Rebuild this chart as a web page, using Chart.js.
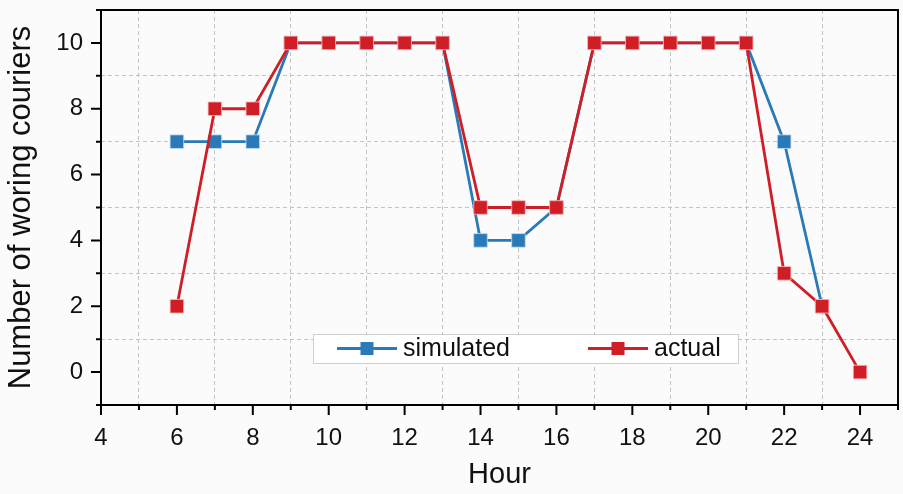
<!DOCTYPE html>
<html>
<head>
<meta charset="utf-8">
<script src="https://cdn.jsdelivr.net/npm/chart.js@4"></script>
<style>
    html, body { margin: 0; padding: 0; background: #fbfbfb; }
    #wrap { width: 903px; height: 494px; }
</style>
</head>
<body>
<div id="wrap"><canvas id="couriersChart" width="903" height="494"></canvas></div>
<script>
const hours = [6, 7, 8, 9, 10, 11, 12, 13, 14, 15, 16, 17, 18, 19, 20, 21, 22, 23, 24];
const simulated = [7, 7, 7, 10, 10, 10, 10, 10, 4, 4, 5, 10, 10, 10, 10, 10, 7, 2];
const actual = [2, 8, 8, 10, 10, 10, 10, 10, 5, 5, 5, 10, 10, 10, 10, 10, 3, 2, 0];
const seriesNames = ['simulated', 'actual'];
const seriesColors = ['#2a7ab8', '#d01e26'];

const FONT = '"Liberation Sans", Arial, sans-serif';

function toPoints(values) {
    return values.map((v, i) => ({ x: hours[i], y: v }));
}

// ticks outside the frame, long for labelled values, short for the in-between ones
const frameAndTicks = {
    id: 'frameAndTicks',
    afterDraw(chart) {
        const ctx = chart.ctx;
        const area = chart.chartArea;
        const xs = chart.scales.x;
        const ys = chart.scales.y;
        ctx.save();
        ctx.strokeStyle = '#000';
        ctx.lineWidth = 2;
        ctx.beginPath();
        xs.ticks.forEach(t => {
            const px = xs.getPixelForValue(t.value);
            const len = t.value % 2 === 0 ? 10 : 5;
            ctx.moveTo(px, area.bottom);
            ctx.lineTo(px, area.bottom + len);
        });
        ys.ticks.forEach(t => {
            const py = ys.getPixelForValue(t.value);
            const len = t.value % 2 === 0 ? 10 : 5;
            ctx.moveTo(area.left, py);
            ctx.lineTo(area.left - len, py);
        });
        ctx.stroke();
        ctx.strokeRect(area.left, area.top, area.right - area.left, area.bottom - area.top);
        ctx.restore();
    }
};

// legend box sitting inside the plot
const boxLegend = {
    id: 'boxLegend',
    afterDatasetsDraw(chart) {
        const ctx = chart.ctx;
        const area = chart.chartArea;
        const left = area.left + 212;
        const top = area.top + 324;
        const w = 425, h = 29;
        const cy = top + h / 2;
        ctx.save();
        ctx.fillStyle = '#ffffff';
        ctx.fillRect(left, top, w, h);
        ctx.strokeStyle = '#cfcfcf';
        ctx.lineWidth = 1;
        ctx.strokeRect(left + 0.5, top + 0.5, w, h);
        const starts = [left + 24, left + 275];
        seriesNames.forEach((name, i) => {
            const x0 = starts[i];
            ctx.strokeStyle = seriesColors[i];
            ctx.lineWidth = 2.8;
            ctx.beginPath();
            ctx.moveTo(x0, cy);
            ctx.lineTo(x0 + 60, cy);
            ctx.stroke();
            ctx.fillStyle = seriesColors[i];
            ctx.fillRect(x0 + 23.5, cy - 6.5, 13, 13);
            ctx.fillStyle = '#111';
            ctx.font = '25px ' + FONT;
            ctx.textBaseline = 'middle';
            ctx.fillText(name, x0 + 66, cy + 1);
        });
        ctx.restore();
    }
};

const gridColor = c => (c.tick && c.tick.value % 2 !== 0 ? '#c4c4c4' : 'rgba(0,0,0,0)');

const ctx = document.getElementById('couriersChart').getContext('2d');
new Chart(ctx, {
    type: 'line',
    data: {
        datasets: [
            {
                label: seriesNames[1],
                data: toPoints(actual),
                borderColor: seriesColors[1],
                backgroundColor: seriesColors[1],
                pointBorderColor: 'rgba(255,190,190,0.8)',
                order: 0
            },
            {
                label: seriesNames[0],
                data: toPoints(simulated),
                borderColor: seriesColors[0],
                backgroundColor: seriesColors[0],
                pointBorderColor: 'rgba(190,220,245,0.8)',
                order: 1
            }
        ]
    },
    options: {
        responsive: false,
        animation: false,
        layout: { autoPadding: false, padding: { top: 10, right: 5, left: 0, bottom: 0 } },
        elements: {
            line: { borderWidth: 2.8, tension: 0 },
            point: { pointStyle: 'rect', radius: 9.6, borderWidth: 1, hoverRadius: 9.6 }
        },
        plugins: {
            legend: { display: false },
            tooltip: { enabled: false }
        },
        scales: {
            x: {
                type: 'linear',
                min: 4,
                max: 25,
                afterFit: s => {
                    s.height = 89;
                    s.paddingLeft = 0;
                    s.paddingRight = 0;
                },
                ticks: {
                    stepSize: 1,
                    autoSkip: false,
                    maxRotation: 0,
                    padding: 19,
                    color: '#111',
                    font: { family: FONT, size: 24 },
                    callback: v => (v % 2 === 0 ? v : '')
                },
                grid: { drawTicks: false, color: gridColor },
                border: { display: false, dash: [4, 3] },
                title: {
                    display: true,
                    text: 'Hour',
                    color: '#111',
                    font: { family: FONT, size: 29 },
                    padding: { top: 0, bottom: 2 }
                }
            },
            y: {
                min: -1,
                max: 11,
                afterFit: s => {
                    s.width = 101;
                    s.paddingTop = 0;
                    s.paddingBottom = 0;
                },
                ticks: {
                    stepSize: 1,
                    autoSkip: false,
                    padding: 18,
                    color: '#111',
                    font: { family: FONT, size: 24 },
                    callback: v => (v % 2 === 0 ? v : '')
                },
                grid: { drawTicks: false, color: gridColor },
                border: { display: false, dash: [4, 3] },
                title: {
                    display: true,
                    text: 'Number of woring couriers',
                    color: '#111',
                    font: { family: FONT, size: 31 },
                    padding: { top: 3, bottom: 0 }
                }
            }
        }
    },
    plugins: [frameAndTicks, boxLegend]
});
</script>
</body>
</html>
